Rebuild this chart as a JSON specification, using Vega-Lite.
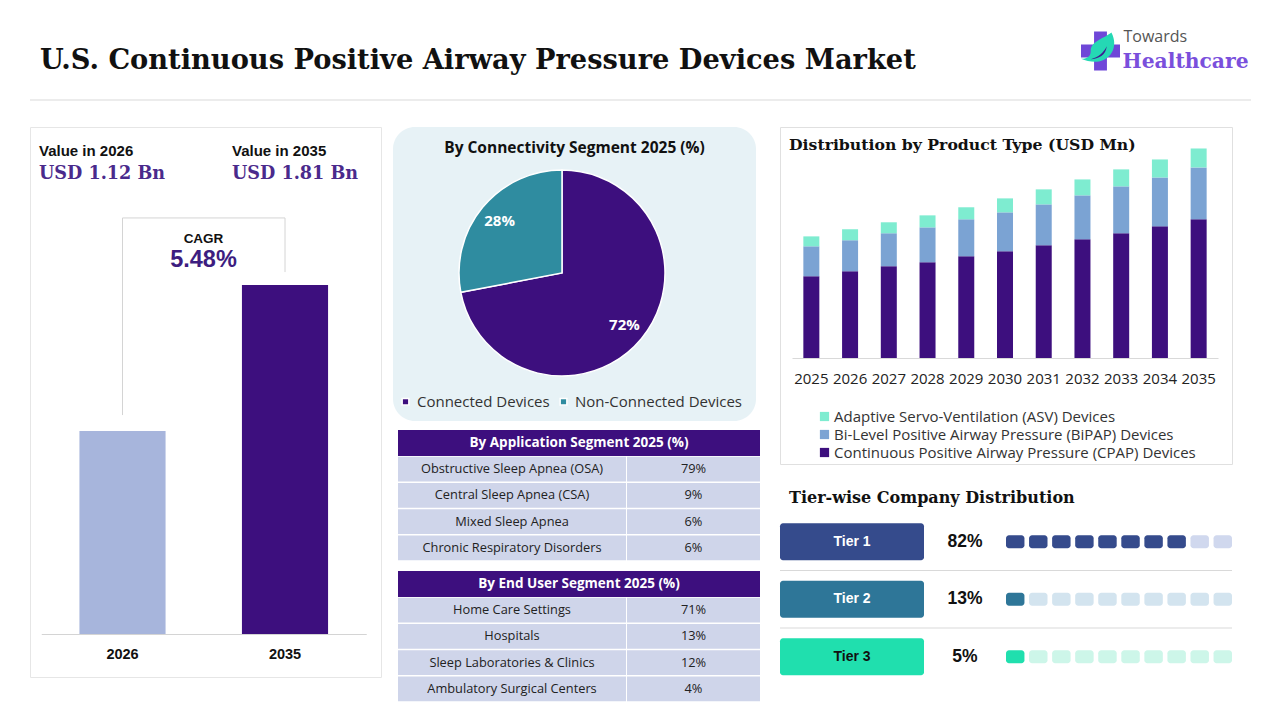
{"$schema":"https://vega.github.io/schema/vega-lite/v6.json","background":"white","padding":{"left":29,"top":0,"right":29,"bottom":0},"spacing":25,"resolve":{"scale":{"color":"independent"}},"config":{"view":{"stroke":null},"concat":{"spacing":0}},
"datasets":{"tiers":[{"tier":"Tier 1","share":0.82},{"tier":"Tier 2","share":0.13},{"tier":"Tier 3","share":0.05}],
"kpi":[{"year":"2026","label":"Value in 2026","value":"USD 1.12 Bn"},{"year":"2035","label":"Value in 2035","value":"USD 1.81 Bn"}],
"app":[{"segment":"Obstructive Sleep Apnea (OSA)","share":0.79},{"segment":"Central Sleep Apnea (CSA)","share":0.09},{"segment":"Mixed Sleep Apnea","share":0.06},{"segment":"Chronic Respiratory Disorders","share":0.06}],
"enduser":[{"segment":"Home Care Settings","share":0.71},{"segment":"Hospitals","share":0.13},{"segment":"Sleep Laboratories & Clinics","share":0.12},{"segment":"Ambulatory Surgical Centers","share":0.04}]},
"vconcat":[
{"spacing":0,"bounds":"flush","hconcat":[
{"width":1040,"height":100,"title":{"text":"U.S. Continuous Positive Airway Pressure Devices Market","anchor":"start","frame":"group","font":"DejaVu Serif","fontWeight":"bold","fontSize":27.25,"color":"#111111","dx":10,"offset":-74},
"data":{"values":[{"rule":"divider"}]},"mark":{"type":"rule","color":"#d9d9d9"},"encoding":{"y":{"datum":0,"type":"quantitative","scale":{"domain":[0,1]},"axis":null}}},
{"width":181,"height":100,"data":{"values":[{"rule":"divider"}]},"layer":[
{"mark":{"type":"rule","color":"#d9d9d9"},"encoding":{"y":{"datum":0,"type":"quantitative","scale":{"domain":[0,1]},"axis":null}}},
{"mark":{"type":"point","filled":true,"color":"#6f47d8","opacity":1,"size":1521,"shape":"M-0.33 -1 L0.33 -1 L0.33 -0.33 L1 -0.33 L1 0.33 L0.33 0.33 L0.33 1 L-0.33 1 L-0.33 0.33 L-1 0.33 L-1 -0.33 L-0.33 -0.33 Z","xOffset":-60,"yOffset":1}},
{"mark":{"type":"point","filled":true,"color":"#25d8b4","opacity":1,"size":1521,"shape":"M0.56 -0.95 C0.95 -0.2 0.5 0.5 -0.2 0.55 C-0.5 0.56 -0.75 0.5 -1 0.4 C-0.7 0.4 -0.5 0.3 -0.5 0 C-0.5 -0.5 0.1 -0.6 0.56 -0.95 Z","xOffset":-60,"yOffset":1}},
{"mark":{"type":"point","filled":true,"color":"#3d1d8f","opacity":1,"size":1521,"shape":"M0.32 -0.25 C0.28 0.2 -0.1 0.4 -0.5 0.42 C-0.1 0.3 0.15 0.1 0.32 -0.25 Z","xOffset":-60,"yOffset":1}},
{"mark":{"type":"text","text":"Towards","font":"Open Sans","fontSize":16,"color":"#555555","align":"left","baseline":"middle","dx":-37,"dy":-13}},
{"mark":{"type":"text","text":"Healthcare","font":"DejaVu Serif","fontWeight":"bold","fontSize":20.3,"color":"#7a4fdc","align":"left","baseline":"middle","dx":-38,"dy":12}}
]}
]},
{"spacing":19,"resolve":{"scale":{"color":"independent"}},"hconcat":[
{"spacing":11,"resolve":{"scale":{"color":"independent"}},"hconcat":[
{"width":351,"height":550,"view":{"stroke":"#e6e6e6","fill":"white"},"resolve":{"scale":{"x":"independent"}},"layer":[
{"layer":[
{"data":{"values":[{"year":"2026","step":1,"level":1.195},{"year":"2026","step":2,"level":2.127},{"year":"2035","step":3,"level":2.127},{"year":"2035","step":4,"level":1.871}]},"mark":{"type":"line","color":"#d4d4d4","strokeWidth":1},"encoding":{"x":{"field":"year","type":"nominal"},"y":{"field":"level","type":"quantitative"},"order":{"field":"step"}}},
{"data":{"values":[{"year":"2026","value":1.12},{"year":"2035","value":1.81}]},"mark":{"type":"bar"},"encoding":{"x":{"field":"year","type":"nominal"},"y":{"field":"value","type":"quantitative"},"y2":{"datum":0.16},"color":{"field":"year","type":"nominal","scale":{"domain":["2026","2035"],"range":["#a7b5dc","#3d0f7e"]},"legend":null}}},
{"data":{"values":[{"year":"2026","label":"CAGR"}]},"mark":{"type":"text","font":"Liberation Sans","fontWeight":"bold","fontSize":13.5,"color":"#111111","dx":81},"encoding":{"x":{"field":"year","type":"nominal"},"y":{"datum":2.028},"text":{"field":"label"}}},
{"data":{"values":[{"year":"2026","label":"5.48%"}]},"mark":{"type":"text","font":"Liberation Sans","fontWeight":"bold","fontSize":23.5,"color":"#3d1d80","dx":81},"encoding":{"x":{"field":"year","type":"nominal"},"y":{"datum":1.93},"text":{"field":"label"}}}
],"encoding":{"x":{"scale":{"range":[11.25,336.25],"paddingInner":0.47,"paddingOuter":0.235},"axis":{"title":null,"orient":"bottom","offset":-43,"labelAngle":0,"ticks":false,"labelPadding":13,"labelFont":"Liberation Sans","labelFontWeight":"bold","labelFontSize":14.5,"labelColor":"#111111","domainColor":"#d4d4d4"}},"y":{"scale":{"domain":[-0.0434,2.557],"nice":false},"axis":null,"title":null}}},
{"data":{"name":"kpi"},"mark":{"type":"text","font":"Liberation Sans","fontWeight":"bold","fontSize":15,"color":"#111111","align":"left"},"encoding":{"x":{"field":"year","type":"nominal","bandPosition":0,"scale":{"type":"band","range":[9,395],"paddingInner":0,"paddingOuter":0},"axis":null},"y":{"datum":2.444},"text":{"field":"label"}}},
{"data":{"name":"kpi"},"mark":{"type":"text","font":"DejaVu Serif","fontWeight":"bold","fontSize":17.6,"color":"#4a2a8c","align":"left"},"encoding":{"x":{"field":"year","type":"nominal","bandPosition":0,"scale":{"type":"band","range":[9,395],"paddingInner":0,"paddingOuter":0},"axis":null},"y":{"datum":2.336},"text":{"field":"value"}}}
]},
{"spacing":9,"resolve":{"scale":{"color":"independent"}},"vconcat":[
{"width":363,"height":294,"view":{"fill":"#e7f2f6","cornerRadius":22,"stroke":null},"title":{"text":"By Connectivity Segment 2025 (%)","anchor":"middle","frame":"group","font":"Open Sans","fontWeight":"bold","fontSize":15.5,"color":"#111111","offset":-29},
"data":{"values":[{"segment":"Connected Devices","share":0.72},{"segment":"Non-Connected Devices","share":0.28}]},
"encoding":{"theta":{"field":"share","type":"quantitative","stack":true},"order":{"field":"segment","sort":"ascending"}},
"layer":[
{"mark":{"type":"arc","outerRadius":103,"stroke":"white","strokeWidth":1.5,"xOffset":-12.5,"yOffset":-1},"encoding":{"color":{"field":"segment","type":"nominal","scale":{"domain":["Connected Devices","Non-Connected Devices"],"range":["#3d0f7e","#2f8ca0"]},"legend":{"title":null,"orient":"none","legendX":5,"legendY":267,"direction":"horizontal","symbolType":"square","symbolSize":45,"labelFont":"Open Sans","labelFontSize":15,"labelColor":"#333333","labelLimit":220,"columnPadding":6,"symbolOffset":0}}}},
{"mark":{"type":"text","radius":81,"font":"Open Sans","fontWeight":"bold","fontSize":15,"color":"white","xOffset":-12.5,"yOffset":-1},"encoding":{"text":{"field":"share","type":"quantitative","format":".0%"}}}
]},
{"spacing":0,"hconcat":[
{"width":5,"height":10,"data":{"values":[{"spacer":1}]},"mark":{"type":"rect","opacity":0}},
{"spacing":10,"vconcat":[
{"spacing":0,"vconcat":[
{"width":362,"height":26,"view":{"fill":"#3d0f7e"},"data":{"values":[{"label":"By Application Segment 2025 (%)"}]},"mark":{"type":"text","font":"Open Sans","fontWeight":"bold","fontSize":13.5,"color":"white"},"encoding":{"text":{"field":"label"}}},
{"spacing":1,"bounds":"flush","hconcat":[
{"width":228,"height":105,"data":{"name":"app"},"encoding":{"y":{"field":"segment","type":"nominal","sort":null,"axis":null,"scale":{"paddingInner":0.06,"paddingOuter":0.03}}},"layer":[{"mark":{"type":"rect","color":"#cfd5ea"}},{"mark":{"type":"text","font":"Open Sans","fontSize":12.8,"color":"#222222"},"encoding":{"text":{"field":"segment"}}}]},
{"width":133,"height":105,"data":{"name":"app"},"encoding":{"y":{"field":"segment","type":"nominal","sort":null,"axis":null,"scale":{"paddingInner":0.06,"paddingOuter":0.03}}},"layer":[{"mark":{"type":"rect","color":"#cfd5ea"}},{"mark":{"type":"text","font":"Open Sans","fontSize":12.8,"color":"#222222"},"encoding":{"text":{"field":"share","type":"quantitative","format":".0%"}}}]}
]}
]},
{"spacing":0,"vconcat":[
{"width":362,"height":26,"view":{"fill":"#3d0f7e"},"data":{"values":[{"label":"By End User Segment 2025 (%)"}]},"mark":{"type":"text","font":"Open Sans","fontWeight":"bold","fontSize":13.5,"color":"white"},"encoding":{"text":{"field":"label"}}},
{"spacing":1,"bounds":"flush","hconcat":[
{"width":228,"height":105,"data":{"name":"enduser"},"encoding":{"y":{"field":"segment","type":"nominal","sort":null,"axis":null,"scale":{"paddingInner":0.06,"paddingOuter":0.03}}},"layer":[{"mark":{"type":"rect","color":"#cfd5ea"}},{"mark":{"type":"text","font":"Open Sans","fontSize":12.8,"color":"#222222"},"encoding":{"text":{"field":"segment"}}}]},
{"width":133,"height":105,"data":{"name":"enduser"},"encoding":{"y":{"field":"segment","type":"nominal","sort":null,"axis":null,"scale":{"paddingInner":0.06,"paddingOuter":0.03}}},"layer":[{"mark":{"type":"rect","color":"#cfd5ea"}},{"mark":{"type":"text","font":"Open Sans","fontSize":12.8,"color":"#222222"},"encoding":{"text":{"field":"share","type":"quantitative","format":".0%"}}}]}
]}
]}
]}
]}
]}
]},
{"spacing":0,"resolve":{"scale":{"color":"independent"}},"vconcat":[
{"width":452,"height":337,"view":{"stroke":"#e0e0e0"},"title":{"text":"Distribution by Product Type (USD Mn)","anchor":"start","frame":"group","font":"DejaVu Serif","fontWeight":"bold","fontSize":15.7,"color":"#111111","dx":9,"offset":-27},
"data":{"values":[
{"year":"2025","product":"Continuous Positive Airway Pressure (CPAP) Devices","value":708},{"year":"2025","product":"Bi-Level Positive Airway Pressure (BiPAP) Devices","value":259},{"year":"2025","product":"Adaptive Servo-Ventilation (ASV) Devices","value":86},
{"year":"2026","product":"Continuous Positive Airway Pressure (CPAP) Devices","value":752},{"year":"2026","product":"Bi-Level Positive Airway Pressure (BiPAP) Devices","value":268},{"year":"2026","product":"Adaptive Servo-Ventilation (ASV) Devices","value":95},
{"year":"2027","product":"Continuous Positive Airway Pressure (CPAP) Devices","value":795},{"year":"2027","product":"Bi-Level Positive Airway Pressure (BiPAP) Devices","value":285},{"year":"2027","product":"Adaptive Servo-Ventilation (ASV) Devices","value":95},
{"year":"2028","product":"Continuous Positive Airway Pressure (CPAP) Devices","value":829},{"year":"2028","product":"Bi-Level Positive Airway Pressure (BiPAP) Devices","value":302},{"year":"2028","product":"Adaptive Servo-Ventilation (ASV) Devices","value":104},
{"year":"2029","product":"Continuous Positive Airway Pressure (CPAP) Devices","value":881},{"year":"2029","product":"Bi-Level Positive Airway Pressure (BiPAP) Devices","value":320},{"year":"2029","product":"Adaptive Servo-Ventilation (ASV) Devices","value":104},
{"year":"2030","product":"Continuous Positive Airway Pressure (CPAP) Devices","value":924},{"year":"2030","product":"Bi-Level Positive Airway Pressure (BiPAP) Devices","value":337},{"year":"2030","product":"Adaptive Servo-Ventilation (ASV) Devices","value":121},
{"year":"2031","product":"Continuous Positive Airway Pressure (CPAP) Devices","value":976},{"year":"2031","product":"Bi-Level Positive Airway Pressure (BiPAP) Devices","value":354},{"year":"2031","product":"Adaptive Servo-Ventilation (ASV) Devices","value":130},
{"year":"2032","product":"Continuous Positive Airway Pressure (CPAP) Devices","value":1028},{"year":"2032","product":"Bi-Level Positive Airway Pressure (BiPAP) Devices","value":380},{"year":"2032","product":"Adaptive Servo-Ventilation (ASV) Devices","value":138},
{"year":"2033","product":"Continuous Positive Airway Pressure (CPAP) Devices","value":1080},{"year":"2033","product":"Bi-Level Positive Airway Pressure (BiPAP) Devices","value":406},{"year":"2033","product":"Adaptive Servo-Ventilation (ASV) Devices","value":147},
{"year":"2034","product":"Continuous Positive Airway Pressure (CPAP) Devices","value":1140},{"year":"2034","product":"Bi-Level Positive Airway Pressure (BiPAP) Devices","value":423},{"year":"2034","product":"Adaptive Servo-Ventilation (ASV) Devices","value":156},
{"year":"2035","product":"Continuous Positive Airway Pressure (CPAP) Devices","value":1201},{"year":"2035","product":"Bi-Level Positive Airway Pressure (BiPAP) Devices","value":449},{"year":"2035","product":"Adaptive Servo-Ventilation (ASV) Devices","value":164}
]},
"mark":{"type":"bar"},
"encoding":{"x":{"field":"year","type":"nominal","scale":{"range":[12,438],"paddingInner":0.587,"paddingOuter":0.293},"axis":{"title":null,"labelAngle":0,"offset":-106,"ticks":false,"labelPadding":13,"labelFont":"Open Sans","labelFontSize":15,"labelColor":"#222222","domainColor":"#d9d9d9"}},
"y":{"field":"value","type":"quantitative","stack":"zero","scale":{"domain":[0,2000],"range":[231,0]},"axis":null},
"order":{"field":"product","sort":"descending"},
"color":{"field":"product","type":"nominal","scale":{"domain":["Adaptive Servo-Ventilation (ASV) Devices","Bi-Level Positive Airway Pressure (BiPAP) Devices","Continuous Positive Airway Pressure (CPAP) Devices"],"range":["#7eecd0","#7ba3d3","#3d0f7e"]},"legend":{"title":null,"orient":"none","legendX":37,"legendY":282,"symbolType":"square","symbolSize":85,"labelFont":"Open Sans","labelFontSize":15,"labelOffset":2,"labelColor":"#333333","labelLimit":420,"rowPadding":2}}}},
{"width":452,"height":48,"data":{"values":[{"label":"Tier-wise Company Distribution"}]},"mark":{"type":"text","font":"DejaVu Serif","fontWeight":"bold","fontSize":16,"color":"#111111","align":"left","dx":-217,"dy":9},"encoding":{"text":{"field":"label"}}},
{"spacing":0,"bounds":"flush","resolve":{"scale":{"color":"independent"}},"hconcat":[
{"width":144,"height":172.5,"data":{"name":"tiers"},"encoding":{"y":{"field":"tier","type":"nominal","axis":null,"scale":{"paddingInner":0,"paddingOuter":0}}},"layer":[
{"transform":[{"filter":"datum.tier !== 'Tier 3'"}],"mark":{"type":"rule","color":"#d9d9d9"},"encoding":{"y":{"field":"tier","type":"nominal","bandPosition":1}}},
{"mark":{"type":"rect","height":{"band":0.64},"cornerRadius":3},"encoding":{"color":{"field":"tier","type":"nominal","scale":{"domain":["Tier 1","Tier 2","Tier 3"],"range":["#354b8c","#2e7698","#20dfae"]},"legend":null}}},
{"mark":{"type":"text","font":"Liberation Sans","fontWeight":"bold","fontSize":14},"encoding":{"text":{"field":"tier"},"color":{"field":"tier","type":"nominal","scale":{"domain":["Tier 1","Tier 2","Tier 3"],"range":["#ffffff","#ffffff","#111111"]},"legend":null}}}
],"resolve":{"scale":{"color":"independent"}}},
{"width":82,"height":172.5,"data":{"name":"tiers"},"encoding":{"y":{"field":"tier","type":"nominal","axis":null,"scale":{"paddingInner":0,"paddingOuter":0}}},"layer":[
{"transform":[{"filter":"datum.tier !== 'Tier 3'"}],"mark":{"type":"rule","color":"#d9d9d9"},"encoding":{"y":{"field":"tier","type":"nominal","bandPosition":1}}},
{"mark":{"type":"text","font":"Liberation Sans","fontWeight":"bold","fontSize":17.5,"color":"#111111"},"encoding":{"text":{"field":"share","type":"quantitative","format":".0%"}}}
]},
{"width":226,"height":172.5,"encoding":{"y":{"field":"tier","type":"nominal","axis":null,"scale":{"domain":["Tier 1","Tier 2","Tier 3"],"paddingInner":0,"paddingOuter":0}}},"layer":[
{"data":{"name":"tiers"},"transform":[{"filter":"datum.tier !== 'Tier 3'"}],"mark":{"type":"rule","color":"#d9d9d9"},"encoding":{"y":{"field":"tier","type":"nominal","bandPosition":1}}},
{"data":{"values":[
{"tier":"Tier 1","cell":1,"state":"Tier 1 filled"},{"tier":"Tier 1","cell":2,"state":"Tier 1 filled"},{"tier":"Tier 1","cell":3,"state":"Tier 1 filled"},{"tier":"Tier 1","cell":4,"state":"Tier 1 filled"},{"tier":"Tier 1","cell":5,"state":"Tier 1 filled"},{"tier":"Tier 1","cell":6,"state":"Tier 1 filled"},{"tier":"Tier 1","cell":7,"state":"Tier 1 filled"},{"tier":"Tier 1","cell":8,"state":"Tier 1 filled"},{"tier":"Tier 1","cell":9,"state":"Tier 1 empty"},{"tier":"Tier 1","cell":10,"state":"Tier 1 empty"},
{"tier":"Tier 2","cell":1,"state":"Tier 2 filled"},{"tier":"Tier 2","cell":2,"state":"Tier 2 empty"},{"tier":"Tier 2","cell":3,"state":"Tier 2 empty"},{"tier":"Tier 2","cell":4,"state":"Tier 2 empty"},{"tier":"Tier 2","cell":5,"state":"Tier 2 empty"},{"tier":"Tier 2","cell":6,"state":"Tier 2 empty"},{"tier":"Tier 2","cell":7,"state":"Tier 2 empty"},{"tier":"Tier 2","cell":8,"state":"Tier 2 empty"},{"tier":"Tier 2","cell":9,"state":"Tier 2 empty"},{"tier":"Tier 2","cell":10,"state":"Tier 2 empty"},
{"tier":"Tier 3","cell":1,"state":"Tier 3 filled"},{"tier":"Tier 3","cell":2,"state":"Tier 3 empty"},{"tier":"Tier 3","cell":3,"state":"Tier 3 empty"},{"tier":"Tier 3","cell":4,"state":"Tier 3 empty"},{"tier":"Tier 3","cell":5,"state":"Tier 3 empty"},{"tier":"Tier 3","cell":6,"state":"Tier 3 empty"},{"tier":"Tier 3","cell":7,"state":"Tier 3 empty"},{"tier":"Tier 3","cell":8,"state":"Tier 3 empty"},{"tier":"Tier 3","cell":9,"state":"Tier 3 empty"},{"tier":"Tier 3","cell":10,"state":"Tier 3 empty"}
]},"mark":{"type":"rect","height":{"band":0.23},"cornerRadius":3},"encoding":{"x":{"field":"cell","type":"ordinal","axis":null,"scale":{"paddingInner":0.2,"paddingOuter":0}},"color":{"field":"state","type":"nominal","scale":{"domain":["Tier 1 filled","Tier 1 empty","Tier 2 filled","Tier 2 empty","Tier 3 filled","Tier 3 empty"],"range":["#354b8c","#d0d8ee","#2e7698","#d3e4ef","#20dfae","#cdf6e9"]},"legend":null}}}
]}
]}
]}
]}
]}
